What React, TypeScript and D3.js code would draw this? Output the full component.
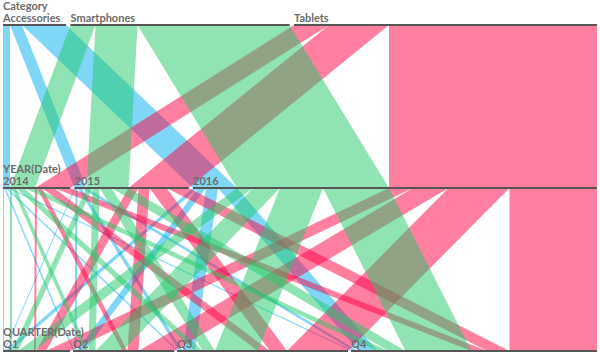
import * as d3 from "d3";
import React from "react";

const categories = ["Accessories", "Smartphones", "Tablets"];
const years = ["2014", "2015", "2016"];
const quarters = ["Q1", "Q2", "Q3", "Q4"];

// sales per year, each row = Q1..Q4
const accessoriesSales = [[1, 1.5, 2, 2.5], [1, 2, 4, 5], [5, 8, 12, 19]];
const smartphonesSales = [[2, 4, 8, 11], [6, 7, 12, 17], [16, 27, 43, 66]];
const tabletsSales = [[2, 5, 12, 16], [10, 11, 17, 22], [24, 35.5, 61, 87.5]];

const colors = ["#00adef", "#22c96a", "#ff0042"];
const drawOrder = [0, 2, 1];

const W = 600, H = 354, X0 = 3, X1 = 597;
const axisY = [25, 188, 351];

type Row = { c: number; y: number; q: number; v: number };

export default function App() {
    const sales = [accessoriesSales, smartphonesSales, tabletsSales];
    const rows: Row[] = [];
    sales.forEach((byYear, c) => byYear.forEach((byQ, y) => byQ.forEach((v, q) => rows.push({ c, y, q, v }))));
    const total = d3.sum(rows, r => r.v);
    const k = (X1 - X0 - 3 * (quarters.length - 1)) / total;
    const x = d3.scaleLinear().domain([0, total]).range([0, total * k]);

    const layout = (names: string[], key: (r: Row) => number) => {
        const sums = names.map((_, i) => d3.sum(rows.filter(r => key(r) === i), r => r.v));
        const gap = (X1 - X0 - x(total)) / (names.length - 1);
        let pos = X0;
        return names.map((name, i) => {
            const s = pos; const w = x(sums[i]); pos += w + gap;
            return { name, x0: s, x1: s + w };
        });
    };
    const catNodes = layout(categories, r => r.c);
    const yearNodes = layout(years, r => r.y);
    const qNodes = layout(quarters, r => r.q);

    const ribbons: { c: number; pts: [number, number][] }[] = [];
    // category -> year
    const catOff = categories.map(() => 0), yearOffA = years.map(() => 0);
    categories.forEach((_, c) => years.forEach((_, y) => {
        const w = x(d3.sum(sales[c][y]));
        const tx = catNodes[c].x0 + catOff[c], bx = yearNodes[y].x0 + yearOffA[y];
        catOff[c] += w; yearOffA[y] += w;
        ribbons.push({ c, pts: [[tx, axisY[0]], [tx + w, axisY[0]], [bx + w, axisY[1]], [bx, axisY[1]]] });
    }));
    // year -> quarter
    const yearOffB = years.map(() => 0), qOff = quarters.map(() => 0);
    categories.forEach((_, c) => years.forEach((_, y) => quarters.forEach((_, q) => {
        const w = x(sales[c][y][q]);
        const tx = yearNodes[y].x0 + yearOffB[y], bx = qNodes[q].x0 + qOff[q];
        yearOffB[y] += w; qOff[q] += w;
        ribbons.push({ c, pts: [[tx, axisY[1]], [tx + w, axisY[1]], [bx + w, axisY[2]], [bx, axisY[2]]] });
    })));

    const line = d3.line();
    const dims = [
        { title: "Category", nodes: catNodes, y: axisY[0] },
        { title: "YEAR(Date)", nodes: yearNodes, y: axisY[1] },
        { title: "QUARTER(Date)", nodes: qNodes, y: axisY[2] },
    ];

    return (
        <svg width={W} height={H} style={{ position: "absolute", left: 0, top: 0 }}
             fontFamily="Lato, sans-serif" fontWeight="bold" fontSize={11}>
            {drawOrder.map(c => (
                <g key={c}>
                    {ribbons.filter(r => r.c === c).map((r, i) => (
                        <path key={i} d={line(r.pts)! + "Z"} fill={colors[c]} fillOpacity={0.5} />
                    ))}
                </g>
            ))}
            {dims.map(d => (
                <g key={d.title}>
                    <text x={X0} y={d.y - 15} fill="#6b6b6b">{d.title}</text>
                    {d.nodes.map(n => (
                        <g key={n.name}>
                            <line x1={n.x0} x2={n.x1} y1={d.y} y2={d.y} stroke="#555" strokeWidth={2} />
                            <text x={n.x0} y={d.y - 3} fill="#6b6b6b">{n.name}</text>
                        </g>
                    ))}
                </g>
            ))}
        </svg>
    );
}
